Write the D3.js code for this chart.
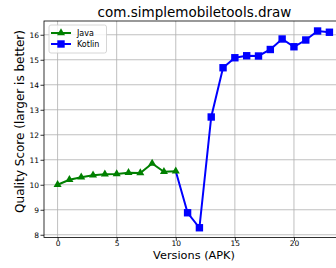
<!DOCTYPE html>
<html><head><meta charset="utf-8">
<script src="https://cdn.jsdelivr.net/npm/d3@7"></script>
<style>body{margin:0;background:#fff}svg{display:block}text{font-family:"DejaVu Sans",sans-serif}</style>
</head><body>
<script>
const title = "com.simplemobiletools.draw";
const javaX = [0,1,2,3,4,5,6,7,8,9,10];
const javaY = [10.0,10.2,10.3,10.38,10.42,10.43,10.48,10.47,10.85,10.52,10.54];
const kotlinX = [10,11,12,13,14,15,16,17,18,19,20,21,22,23];
const kotlinY = [10.54,8.88,8.28,12.71,14.68,15.08,15.16,15.15,15.41,15.83,15.52,15.79,16.15,16.1];
const xTicks = [0,5,10,15,20];
const yTicks = [8,9,10,11,12,13,14,15,16];

const W=336,H=268;
const svg=d3.select("body").append("svg").attr("width",W).attr("height",H);
const L=44,R=343,T=21,B=237.5;
const x=d3.scaleLinear().domain([-1.15,24.15]).range([L,R]);
const y=d3.scaleLinear().domain([7.89,16.55]).range([B,T]);

svg.append("defs").append("clipPath").attr("id","clip").append("rect").attr("x",L).attr("y",T).attr("width",R-L).attr("height",B-T);

// grid
const g=svg.append("g");
g.selectAll(".vg").data(xTicks).enter().append("line")
 .attr("x1",d=>x(d)).attr("x2",d=>x(d)).attr("y1",T).attr("y2",B)
 .attr("stroke","#b0b0b0").attr("stroke-width",0.8);
g.selectAll(".hg").data(yTicks).enter().append("line")
 .attr("y1",d=>y(d)).attr("y2",d=>y(d)).attr("x1",L).attr("x2",R)
 .attr("stroke","#b0b0b0").attr("stroke-width",0.8);

// axes
const xa=svg.append("g").attr("transform",`translate(0,${B})`)
 .call(d3.axisBottom(x).tickValues(xTicks).tickSize(3.5).tickPadding(0));
const ya=svg.append("g").attr("transform",`translate(${L},0)`)
 .call(d3.axisLeft(y).tickValues(yTicks).tickSize(3.5).tickPadding(1.5));
[xa,ya].forEach(a=>{a.select(".domain").remove();a.selectAll("text").attr("font-size",7.5).attr("fill","#000").style("font-family","DejaVu Sans");a.selectAll("line").attr("stroke","#000").attr("stroke-width",0.8);});

// frame
svg.append("rect").attr("x",L).attr("y",T).attr("width",R-L).attr("height",B-T)
 .attr("fill","none").attr("stroke","#000").attr("stroke-width",0.8);

const plot=svg.append("g").attr("clip-path","url(#clip)");
const line=d3.line().x(d=>x(d[0])).y(d=>y(d[1]));
const kData=kotlinX.map((v,i)=>[v,kotlinY[i]]);
const jData=javaX.map((v,i)=>[v,javaY[i]]);

plot.append("path").datum(kData).attr("d",line).attr("fill","none").attr("stroke","#0000ff").attr("stroke-width",2);
plot.selectAll(".sq").data(kData.slice(1)).enter().append("rect")
 .attr("x",d=>x(d[0])-3.7).attr("y",d=>y(d[1])-3.7).attr("width",7.4).attr("height",7.4).attr("fill","#0000ff");

plot.append("path").datum(jData).attr("d",line).attr("fill","none").attr("stroke","#008000").attr("stroke-width",2);
const tri=d3.symbol().type(d3.symbolTriangle).size(28);
plot.selectAll(".tr").data(jData).enter().append("path")
 .attr("d",tri).attr("transform",d=>`translate(${x(d[0])},${y(d[1])})`).attr("fill","#008000");

// legend
const lg=svg.append("g");
lg.append("rect").attr("x",49).attr("y",25).attr("width",57.5).attr("height",28).attr("rx",2)
 .attr("fill","#fff").attr("fill-opacity",0.8).attr("stroke","#ccc").attr("stroke-width",0.8);
const items=[{n:"Java",c:"#008000",t:"tri",yy:33},{n:"Kotlin",c:"#0000ff",t:"sq",yy:44}];
items.forEach(it=>{
 lg.append("line").attr("x1",51).attr("x2",71).attr("y1",it.yy).attr("y2",it.yy).attr("stroke",it.c).attr("stroke-width",2);
 if(it.t==="tri") lg.append("path").attr("d",tri).attr("transform",`translate(61,${it.yy})`).attr("fill",it.c);
 else lg.append("rect").attr("x",57.3).attr("y",it.yy-3.7).attr("width",7.4).attr("height",7.4).attr("fill",it.c);
 lg.append("text").attr("x",77).attr("y",it.yy+3).attr("font-size",8).text(it.n);
});

// title & labels
svg.append("text").attr("x",194.5).attr("y",17.3).attr("text-anchor","middle").attr("font-size",13.5).text(title);
svg.append("text").attr("x",194).attr("y",258.6).attr("text-anchor","middle").attr("font-size",11.3).text("Versions (APK)");
svg.append("text").attr("transform",`translate(23.5,121.5) rotate(-90)`).attr("text-anchor","middle").attr("font-size",12).text("Quality Score (larger is better)");
</script>
</body></html>
